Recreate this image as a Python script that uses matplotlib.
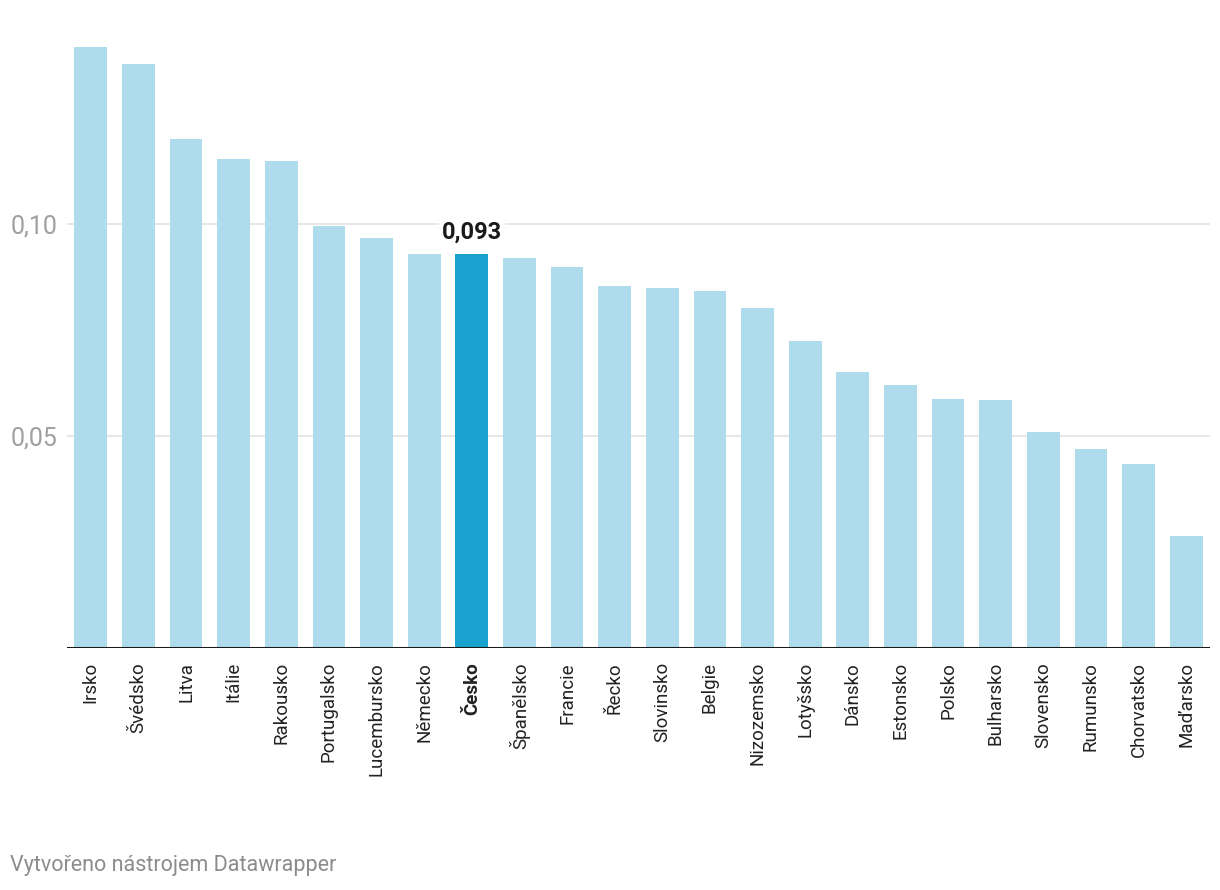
import matplotlib
matplotlib.use("Agg")
import matplotlib.pyplot as plt
import numpy as np

plt.rcParams["font.family"] = ["Roboto", "DejaVu Sans"]

countries = ["Irsko", "Švédsko", "Litva", "Itálie", "Rakousko", "Portugalsko",
             "Lucembursko", "Německo", "Česko", "Španělsko", "Francie", "Řecko",
             "Slovinsko", "Belgie", "Nizozemsko", "Lotyšsko", "Dánsko", "Estonsko",
             "Polsko", "Bulharsko", "Slovensko", "Rumunsko", "Chorvatsko", "Maďarsko"]
values = [0.1417, 0.1377, 0.1200, 0.1153, 0.1149, 0.0995, 0.0967, 0.0929,
          0.0930, 0.0920, 0.0899, 0.0854, 0.0849, 0.0842, 0.0802, 0.0724,
          0.0651, 0.0620, 0.0587, 0.0585, 0.0509, 0.0469, 0.0434, 0.0264]
highlight = "Česko"
y_ticks = [0.05, 0.10]
y_tick_labels = ["0,05", "0,10"]

LIGHT = "#aedcec"
DARK = "#19a2cd"

fig = plt.figure(figsize=(12.2, 8.9), dpi=100)
ax = fig.add_axes([67 / 1220, 1 - 648 / 890, 1143 / 1220, 615 / 890])

x = np.arange(len(countries))
colors = [DARK if c == highlight else LIGHT for c in countries]
ax.bar(x, values, width=0.69, color=colors, zorder=2)

ax.set_xlim(-0.5, len(countries) - 1 + 0.5)
ax.set_ylim(0, 0.145)

for yt in y_ticks:
    ax.axhline(yt, color="#e3e3e3", lw=1.2, zorder=1)
ax.axhline(0, color="#1a1a1a", lw=2.2, zorder=3)

ax.set_yticks(y_ticks)
ax.set_yticklabels(y_tick_labels, fontsize=18, color="#a0a0a0")
ax.tick_params(axis="y", length=0, pad=7)

ax.set_xticks(x)
ax.set_xticklabels(countries, rotation=90, fontsize=13.5, color="#222222")
ax.tick_params(axis="x", length=0, pad=10)
for lbl in ax.get_xticklabels():
    if lbl.get_text() == highlight:
        lbl.set_fontweight("bold")

for s in ax.spines.values():
    s.set_visible(False)

hi = countries.index(highlight)
ax.text(hi, values[hi] + 0.0022, f"{values[hi]:.3f}".replace(".", ","),
        ha="center", va="bottom", fontsize=17, fontweight="bold", color="#1a1a1a",
        bbox=dict(facecolor="white", edgecolor="none", pad=2), zorder=4)

fig.text(10 / 1220, 1 - 866 / 890, "Vytvořeno nástrojem Datawrapper",
         fontsize=15.5, color="#8c8c8c", va="center", ha="left")

fig.savefig("out.png", dpi=100)
